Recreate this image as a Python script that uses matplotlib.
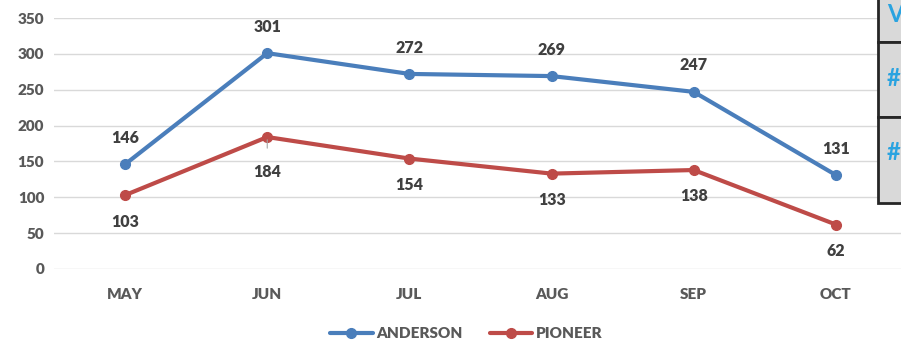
import matplotlib.pyplot as plt
from matplotlib.patches import Rectangle

months = ["MAY", "JUN", "JUL", "AUG", "SEP", "OCT"]
anderson = [146, 301, 272, 269, 247, 131]
pioneer = [103, 184, 154, 133, 138, 62]
y_ticks = [0, 50, 100, 150, 200, 250, 300, 350]

blue = "#4a7ebb"
red = "#be4b48"
grey_text = "#595959"

plt.rcParams["font.family"] = ["Lato", "DejaVu Sans"]
plt.rcParams["font.weight"] = "heavy"

fig = plt.figure(figsize=(9.01, 3.43), dpi=100)
W, H = 901, 343

# axes spans past the right edge, like the cropped source
left, right = 54, 907
top, bottom = 18, 269
ax = fig.add_axes([left / W, 1 - bottom / H, (right - left) / W, (bottom - top) / H])

x = list(range(len(months)))
ax.plot(x, anderson, color=blue, lw=3, marker="o", ms=7, label="ANDERSON",
        solid_capstyle="round", zorder=3)
ax.plot(x, pioneer, color=red, lw=3, marker="o", ms=7, label="PIONEER",
        solid_capstyle="round", zorder=3)

for i, v in enumerate(anderson):
    ax.annotate(str(v), (i, v), xytext=(0, 19), textcoords="offset points",
                ha="center", va="center", fontsize=11.5, color="#404040",
                fontweight="heavy")
for i, v in enumerate(pioneer):
    # the JUN label sits a bit lower, with a small leader line
    dy = -25 if i == 1 else -19
    ax.annotate(str(v), (i, v), xytext=(0, dy), textcoords="offset points",
                ha="center", va="center", fontsize=11.5, color="#404040",
                fontweight="heavy")
ax.annotate("", (1, pioneer[1]), xytext=(0, -10), textcoords="offset points",
            arrowprops=dict(arrowstyle="-", color="#a6a6a6", lw=0.8))

ax.set_xlim(-0.5, len(months) - 0.5)
ax.set_ylim(0, 350)
ax.set_yticks(y_ticks)
ax.set_xticks(x)
ax.set_xticklabels(months)
ax.tick_params(axis="both", length=0, labelsize=11, colors=grey_text)
ax.tick_params(axis="x", pad=14)
ax.tick_params(axis="y", pad=7)
ax.grid(True, axis="y", color="#d9d9d9", lw=1)
ax.set_axisbelow(True)
for spine in ax.spines.values():
    spine.set_visible(False)

leg = fig.legend(loc="center", bbox_to_anchor=(466 / W, 1 - 334 / H), ncol=2,
                 frameon=False, fontsize=11, handlelength=2.8, columnspacing=1.8,
                 handletextpad=0.2)
for t in leg.get_texts():
    t.set_color(grey_text)

# partial table on the right edge
cells = [(-5, 42), (42, 117), (117, 203)]
for y0, y1 in cells:
    fig.patches.append(Rectangle((878 / W, 1 - y1 / H), 40 / W, (y1 - y0) / H,
                                 transform=fig.transFigure, facecolor="#d9d9d9",
                                 edgecolor="#262626", lw=2, zorder=5))
cell_text = ["V", "#", "#"]
cell_y = [15, 78, 152]
for s, yy in zip(cell_text, cell_y):
    fig.text(887 / W, 1 - yy / H, s, color="#2aa3e0", fontsize=17,
             fontweight="bold", va="center", ha="left", zorder=6)

fig.savefig("out.png", dpi=100)
